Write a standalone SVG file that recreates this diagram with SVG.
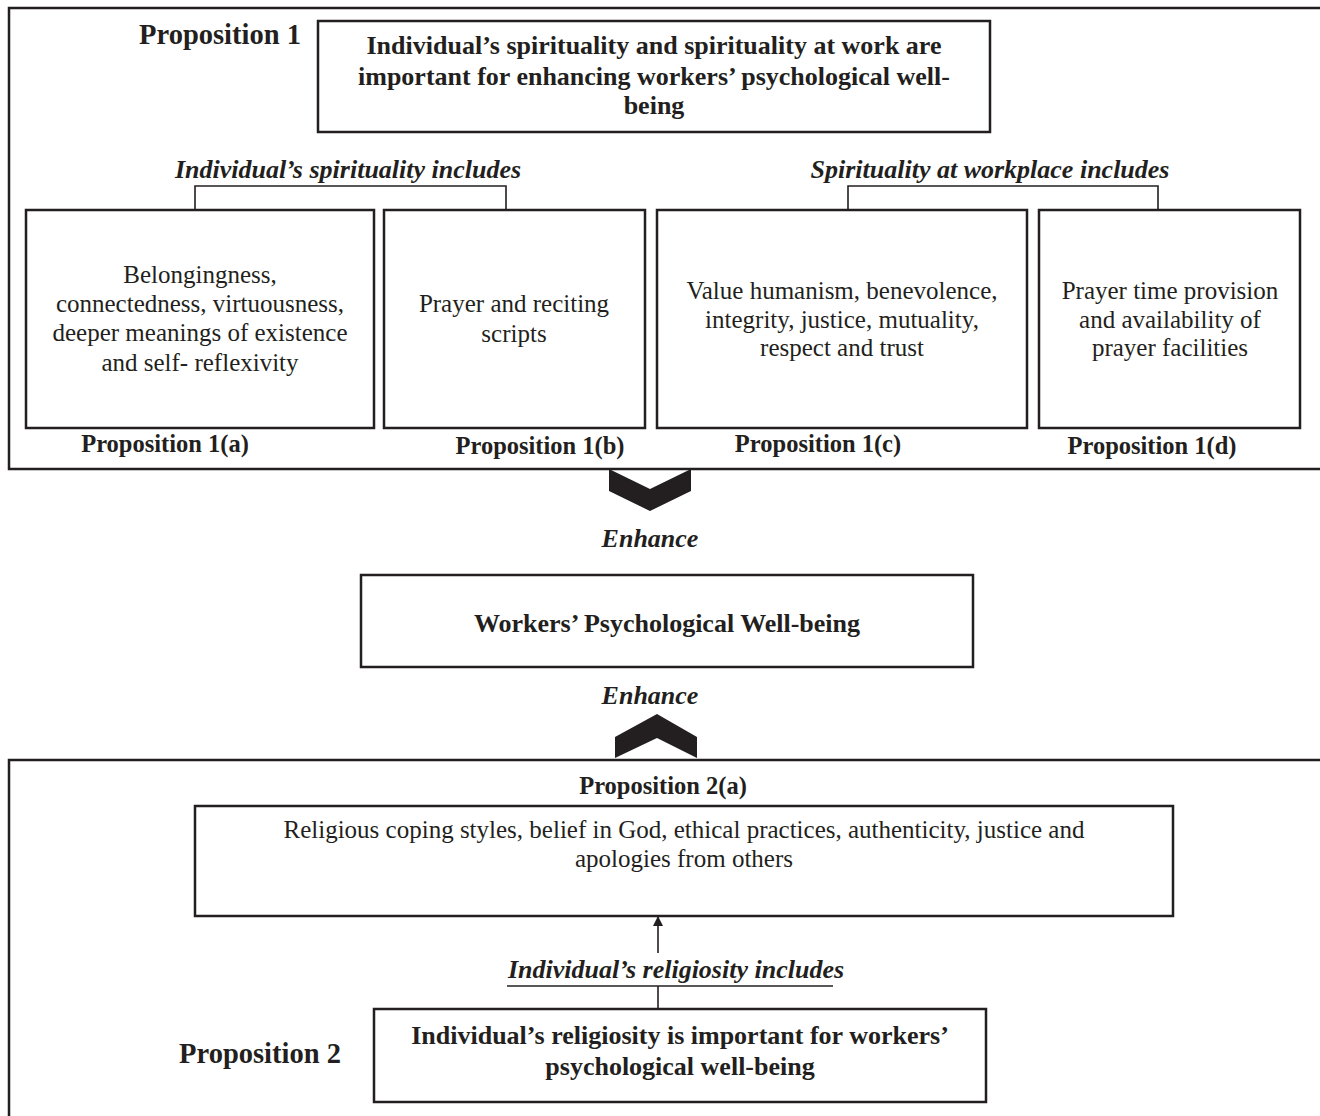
<svg xmlns="http://www.w3.org/2000/svg" width="1320" height="1116" viewBox="0 0 1320 1116">
<style>
text{font-family:"Liberation Serif","Times New Roman",serif;fill:#231f20;text-anchor:middle}
.b{font-weight:bold;font-size:26px}
.bi{font-weight:bold;font-style:italic;font-size:26px}
.r{font-size:25px}
.lab{font-weight:bold;font-size:24.5px}
.big{font-weight:bold;font-size:28.5px}
.box{fill:#fff;stroke:#231f20;stroke-width:2.5}
.frame{fill:none;stroke:#231f20;stroke-width:2.5}
.ln{fill:none;stroke:#231f20;stroke-width:1.6}
.chev{fill:#231f20}
</style>
<defs>
<marker id="ah" viewBox="0 0 10 10" refX="9" refY="5" markerWidth="10" markerHeight="10" markerUnits="userSpaceOnUse" orient="auto">
<path d="M0,0 L10,5 L0,10 z" fill="#231f20"/>
</marker>
</defs>
<rect width="1320" height="1116" fill="#fff"/>

<g id="frame1">
<path class="frame" d="M1324,8 H9 V469 H1324"/>
<text class="big" x="220" y="44">Proposition 1</text>
</g>

<g id="p1">
<rect class="box" x="318" y="21" width="672" height="111"/>
<text class="b" x="654" y="54">Individual’s spirituality and spirituality at work are</text>
<text class="b" x="654" y="85">important for enhancing workers’ psychological well-</text>
<text class="b" x="654" y="114">being</text>
</g>

<g id="lbl-ind-spirit">
<text class="bi" x="348" y="178">Individual’s spirituality includes</text>
</g>
<g id="lbl-work-spirit">
<text class="bi" x="990" y="178">Spirituality at workplace includes</text>
</g>

<g id="p1a">
<rect class="box" x="26" y="210" width="348" height="218"/>
<text class="r" x="200" y="283">Belongingness,</text>
<text class="r" x="200" y="312">connectedness, virtuousness,</text>
<text class="r" x="200" y="341">deeper meanings of existence</text>
<text class="r" x="200" y="371">and self- reflexivity</text>
<text class="lab" x="165" y="452">Proposition 1(a)</text>
</g>

<g id="p1b">
<rect class="box" x="384" y="210" width="261" height="218"/>
<text class="r" x="514" y="312">Prayer and reciting</text>
<text class="r" x="514" y="342">scripts</text>
<text class="lab" x="540" y="454">Proposition 1(b)</text>
</g>

<g id="p1c">
<rect class="box" x="657" y="210" width="370" height="218"/>
<text class="r" x="842" y="299">Value humanism, benevolence,</text>
<text class="r" x="842" y="328">integrity, justice, mutuality,</text>
<text class="r" x="842" y="356">respect and trust</text>
<text class="lab" x="818" y="452">Proposition 1(c)</text>
</g>

<g id="p1d">
<rect class="box" x="1039" y="210" width="261" height="218"/>
<text class="r" x="1170" y="299">Prayer time provision</text>
<text class="r" x="1170" y="328">and availability of</text>
<text class="r" x="1170" y="356">prayer facilities</text>
<text class="lab" x="1152" y="454">Proposition 1(d)</text>
</g>

<g id="wellbeing">
<rect class="box" x="361" y="575" width="612" height="92"/>
<text class="b" x="667" y="632">Workers’ Psychological Well-being</text>
</g>

<g id="frame2">
<path class="frame" d="M1324,760 H9 V1120"/>
<text class="big" x="260" y="1063">Proposition 2</text>
</g>

<g id="p2a">
<text class="lab" x="663" y="794">Proposition 2(a)</text>
<rect class="box" x="195" y="806" width="978" height="110"/>
<text class="r" x="684" y="838">Religious coping styles, belief in God, ethical practices, authenticity, justice and</text>
<text class="r" x="684" y="867">apologies from others</text>
</g>

<g id="lbl-relig">
<text class="bi" x="676" y="978">Individual’s religiosity includes</text>
</g>

<g id="p2">
<rect class="box" x="374" y="1009" width="612" height="93"/>
<text class="b" x="680" y="1044">Individual’s religiosity is important for workers’</text>
<text class="b" x="680" y="1075">psychological well-being</text>
</g>

<g id="connectors">
<path class="ln" d="M195,210 V186 H506 V210"/>
<path class="ln" d="M848,210 V186 H1158 V210"/>
<polygon class="chev" points="609,469 650,489 691,469 691,491 650,511 609,491"/>
<text class="bi" x="650" y="547">Enhance</text>
<text class="bi" x="650" y="704">Enhance</text>
<polygon class="chev" points="615,737 657,714 697,737 697,758 657,738 615,758"/>
<line class="ln" x1="658" y1="953" x2="658" y2="917" marker-end="url(#ah)"/>
<line class="ln" x1="507" y1="986" x2="833" y2="986" stroke-width="2"/>
<line class="ln" x1="658" y1="986" x2="658" y2="1009"/>
</g>
</svg>
